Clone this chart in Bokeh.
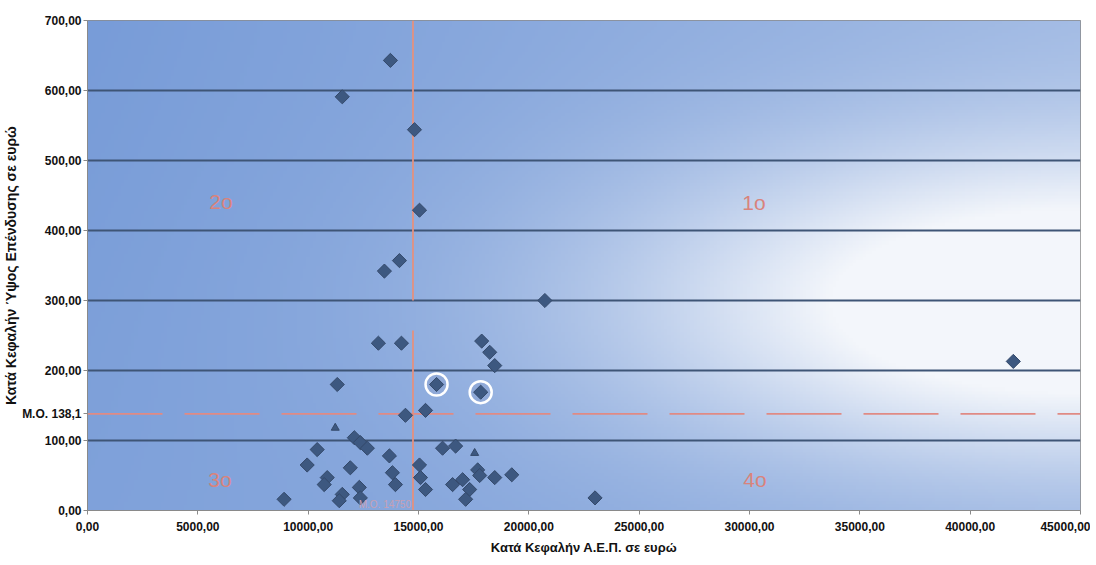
import numpy as np
from bokeh.plotting import figure
from bokeh.models import Range1d, FixedTicker, Label
from bokeh.core.properties import value
from bokeh.embed import file_html
from bokeh.resources import INLINE

# ---- data ----
gdp_per_capita = [13727, 11545, 14818, 15045, 13455, 14136, 20727, 13182, 14227, 17864,
                  18227, 18455, 41955, 11318, 15318, 14409, 12091, 12364, 12682, 10409,
                  9955, 11909, 13682, 10864, 10727, 13818, 13955, 12318, 11545, 11409,
                  12364, 8909, 16091, 16682, 15045, 15091, 15318, 17682, 17773, 16545,
                  16999, 17318, 17136, 18455, 19227, 23000]
invest_per_capita = [643, 591, 544, 429, 342, 357, 300, 239, 239, 242,
                     226, 207, 213, 180, 143, 136, 104, 97, 89, 87,
                     65, 61, 78, 47, 37, 54, 37, 33, 23, 14,
                     18, 16, 89, 92, 65, 47, 30, 58, 50, 37,
                     44, 30, 16, 47, 51, 18]
highlight_x = [15818, 17818]
highlight_y = [180, 169]
small_x = [11227, 17545]
small_y = [118, 82]

mean_x = 14750
mean_y = 138.1
mean_x_label = "M.O. 14750"
mean_y_label = "M.O. 138,1"

quadrants = ["1ο", "2ο", "3ο", "4ο"]
quad_x = [30200, 6050, 6000, 30250]
quad_y = [440, 442, 44, 44]

x_ticks = [0, 5000, 10000, 15000, 20000, 25000, 30000, 35000, 40000, 45000]
x_tick_labels = ["0,00", "5000,00", "10000,00", "15000,00", "20000,00", "25000,00",
                 "30000,00", "35000,00", "40000,00", "45000,00"]
y_ticks = [0, 100, 200, 300, 400, 500, 600, 700]
y_tick_labels = ["0,00", "100,00", "200,00", "300,00", "400,00", "500,00", "600,00", "700,00"]

x_title = "Κατά Κεφαλήν Α.Ε.Π. σε ευρώ"
y_title = "Κατά Κεφαλήν Ύψος Επένδυσης σε ευρώ"

XMAX, YMAX = 45000, 700

p = figure(width=1090, height=557, output_backend="svg", toolbar_location=None,
           x_range=Range1d(0, XMAX), y_range=Range1d(0, YMAX),
           min_border_left=87, min_border_right=10, min_border_top=20, min_border_bottom=44)
p.background_fill_color = "#7d9fd8"
p.border_fill_color = "white"
p.outline_line_color = "#8a8a8a"

# gradient background
nx, ny = 300, 160
u = np.linspace(0, 1, nx)[None, :]
v = np.linspace(0, 1, ny)[:, None]
w = np.exp(-((u - 0.97) / 0.42) ** 2 - ((v - 0.42) / 0.32) ** 2)
w = np.clip(w * 1.05 + 0.16 * u + 0.16 * u * v + 0.06 * (1 - v), 0, 1)
dark = np.array([120, 156, 216], dtype=float)
light = np.array([243, 246, 251], dtype=float)
img = np.empty((ny, nx), dtype=np.uint32)
view = img.view(dtype=np.uint8).reshape((ny, nx, 4))
for c in range(3):
    view[:, :, c] = (dark[c] * (1 - w) + light[c] * w).astype(np.uint8)
view[:, :, 3] = 255
bg = p.image_rgba(image=[img], x=0, y=0, dw=XMAX, dh=YMAX)
bg.level = "image"

# grid
p.xgrid.grid_line_color = None
p.ygrid.grid_line_color = "#3e5576"
p.ygrid.grid_line_width = 1.8
p.ygrid.ticker = FixedTicker(ticks=y_ticks)

# axes (the mean of y is labelled on the y axis, as in the original)
p.xaxis.ticker = FixedTicker(ticks=x_ticks)
p.yaxis.ticker = FixedTicker(ticks=y_ticks + [mean_y])
p.xaxis.major_label_overrides = dict(zip(x_ticks, x_tick_labels))
y_over = dict(zip(y_ticks, y_tick_labels))
y_over[mean_y] = mean_y_label
p.yaxis.major_label_overrides = y_over
for ax in (p.xaxis, p.yaxis):
    ax.axis_line_color = "#8a8a8a"
    ax.major_tick_line_color = "#8a8a8a"
    ax.minor_tick_line_color = None
    ax.major_tick_out = 4
    ax.major_tick_in = 0
    ax.major_label_text_font = "Liberation Sans"
    ax.major_label_text_font_style = "bold"
    ax.major_label_text_font_size = "12px"
    ax.major_label_text_color = "#111111"
    ax.axis_label_text_font = "Liberation Sans"
    ax.axis_label_text_font_style = "bold"
    ax.axis_label_text_color = "#111111"
p.xaxis.major_label_standoff = 7
p.yaxis.major_label_standoff = 2
p.xaxis.axis_label = x_title
p.yaxis.axis_label = y_title
p.xaxis.axis_label_text_font_size = "13px"
p.yaxis.axis_label_text_font_size = "14px"
p.xaxis.axis_label_standoff = 6
p.yaxis.axis_label_standoff = 0

# mean lines
p.line([mean_x, mean_x], [YMAX, 0], line_color="#e3917f", line_width=1.8, line_dash="280 30")
p.line([0, XMAX], [mean_y, mean_y], line_color="#e08a84", line_width=1.6, line_dash="75 22")

# points
p.scatter(gdp_per_capita, invest_per_capita, marker="square", angle=np.pi / 4, size=10,
          fill_color="#3d5880", line_color="#34496a", line_width=1)
p.scatter(highlight_x, highlight_y, marker="circle", size=22, fill_color="#8fa9d8",
          line_color="white", line_width=2.5)
p.scatter(highlight_x, highlight_y, marker="square", angle=np.pi / 4, size=10,
          fill_color="#3d5880", line_color="#34496a", line_width=1)
p.scatter(small_x, small_y, marker="triangle", size=8,
          fill_color="#3d5880", line_color="#34496a")

# quadrant labels
p.text(quad_x, quad_y, text=quadrants, text_align="center", text_baseline="middle",
       text_color="#d9837c", text_font=value("Liberation Sans"), text_font_size="21px")

# mean label of x
p.add_layout(Label(x=mean_x, y=0, text=mean_x_label, text_align="right", text_baseline="bottom",
                   x_offset=-2, y_offset=1, text_font="Liberation Sans", text_font_size="10px",
                   text_color="#c7a0b4"))

open("out.html", "w").write(file_html(p, INLINE))
